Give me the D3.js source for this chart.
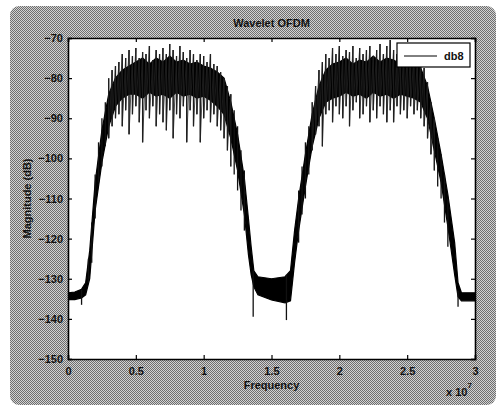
<!DOCTYPE html>
<html><head><meta charset="utf-8">
<script src="https://cdn.jsdelivr.net/npm/d3@7"></script>
<style>html,body{margin:0;padding:0;background:#fff;}svg{display:block;}text{font-family:"Liberation Sans",Arial,sans-serif;fill:#111;}</style>
</head><body>
<script>
// ---------- data (frequency in units of 10^7 Hz, magnitude in dB) ----------
const title = "Wavelet OFDM";
const xLabel = "Frequency";
const yLabel = "Magnitude (dB)";
const seriesName = "db8";
const xTicks = [0, 0.5, 1, 1.5, 2, 2.5, 3];
const yTicks = [-70, -80, -90, -100, -110, -120, -130, -140, -150];

// dense body of the spectrum (envelope of the black band)
const bodyF  = [0, 0.05, 0.10, 0.13, 0.16, 0.20, 0.25, 0.30, 0.35, 0.40, 0.45, 0.50, 0.55, 0.60, 0.65, 0.70, 0.75, 0.80, 0.85, 0.90, 0.95, 1.00, 1.05, 1.10, 1.15, 1.20, 1.25, 1.30, 1.33, 1.35, 1.37, 1.40, 1.50, 1.60, 1.64, 1.67, 1.70, 1.75, 1.80, 1.85, 1.90, 1.95, 2.00, 2.05, 2.10, 2.15, 2.20, 2.25, 2.30, 2.35, 2.40, 2.45, 2.50, 2.55, 2.60, 2.65, 2.70, 2.75, 2.80, 2.85, 2.875, 2.90, 2.95, 3.00];
const bodyHi = [-133.5, -133.3, -132.6, -131, -123, -106, -93, -84, -80, -78, -77, -76, -75, -76.5, -75, -76, -74.5, -76, -75.5, -76.5, -76, -77, -77.5, -78.5, -80, -86, -94, -105, -115, -122, -128, -129.5, -130, -129.5, -128, -118, -110, -99, -89, -82, -78, -76.5, -76, -75, -76.5, -75.5, -76, -74.5, -76, -75, -75.5, -76.5, -76, -77, -77.5, -82, -90, -99, -109, -121, -131, -133.5, -133.5, -133.5];
const bodyLo = [-135.2, -135.2, -134.8, -134, -130, -113, -101, -92, -87, -85, -84, -84, -85, -83.5, -84.5, -84, -85, -83.5, -84.5, -84, -85, -84.5, -85.5, -87, -89, -95, -103, -114, -124, -129, -132, -134, -135.3, -136, -135.5, -126, -118, -107, -97, -90, -86, -85, -84.5, -83.5, -84.5, -84, -85, -83.5, -84.5, -84, -85, -84, -84.5, -85, -86, -90, -98, -106, -117, -129, -134.5, -135.5, -135.5, -135.5];

// spikes of the noisy spectrum: frequency, peak and trough
const spikeF = [0.100, 0.150, 0.175, 0.200, 0.225, 0.250, 0.275,
  0.300, 0.325, 0.350, 0.375, 0.400, 0.425, 0.450, 0.475, 0.500, 0.525, 0.550, 0.575, 0.600, 0.625, 0.650, 0.675, 0.700, 0.725, 0.750, 0.775, 0.800, 0.825, 0.850, 0.875, 0.900, 0.925, 0.950, 0.975, 1.000, 1.025, 1.050, 1.075, 1.100, 1.125, 1.150, 1.175, 1.200, 1.225, 1.250, 1.275, 1.300, 1.365,
  1.610, 1.700, 1.725, 1.750, 1.775,
  1.800, 1.825, 1.850, 1.875, 1.900, 1.925, 1.950, 1.975, 2.000, 2.025, 2.050, 2.075, 2.100, 2.125, 2.150, 2.175, 2.200, 2.225, 2.250, 2.275, 2.300, 2.325, 2.350, 2.375, 2.400, 2.425, 2.450, 2.475, 2.500, 2.525, 2.550, 2.575, 2.600, 2.625, 2.650, 2.675, 2.700, 2.725, 2.750, 2.775, 2.800, 2.875];
const spikeHi = [-132.8, -125, -116, -104, -96, -90, -86,
  -80, -78, -77, -76, -74, -75, -73, -74.5, -72.5, -75, -73.5, -74, -72, -75.5, -73, -74, -72.5, -74, -71.5, -73, -74.5, -72, -73.5, -75, -73, -74, -75.5, -74, -74.5, -76, -74, -76.5, -77, -78.5, -80, -82, -84, -88, -92, -98, -103, -128,
  -129, -108, -102, -96, -92,
  -86, -82, -78, -76, -74, -75, -72.5, -74, -72, -74.5, -73, -73.5, -72, -75, -72.5, -74, -73, -72, -74.5, -73, -71.5, -74, -72, -70.5, -73, -74, -72.5, -74, -75, -73.5, -74.5, -76, -76, -77.5, -81, -86, -90, -95, -99, -104, -110, -133];
const spikeLo = [-136.5, -131, -126, -115, -106, -102, -97,
  -95, -92, -90, -89, -92, -88, -94, -89, -87, -91, -96, -88, -90, -87, -92, -89, -91, -93, -88, -95, -89, -90, -87, -96, -88, -92, -89, -96, -90, -88, -91, -89, -92, -93, -95, -98, -102, -104, -108, -113, -118, -139.5,
  -140.3, -121, -114, -110, -104,
  -98, -94, -92, -97, -89, -88, -91, -87, -89, -90, -87, -92, -88, -86, -90, -89, -87, -91, -88, -90, -87, -89, -91, -88, -91, -87, -89, -88, -90, -87, -89, -88, -90, -92, -95, -99, -103, -107, -110, -116, -122, -137];

// ---------- drawing ----------
const W = 502, H = 408;
const margin = {left: 68, top: 38, right: 27, bottom: 49};
const x = d3.scaleLinear().domain([0, 3]).range([margin.left, W - margin.right]);
const y = d3.scaleLinear().domain([-150, -70]).range([H - margin.bottom, margin.top]);

const svg = d3.select("body").append("svg").attr("width", W).attr("height", H);
const defs = svg.append("defs");
const pat = defs.append("pattern").attr("id", "dither").attr("width", 2).attr("height", 2).attr("patternUnits", "userSpaceOnUse");
pat.append("rect").attr("width", 2).attr("height", 2).attr("fill", "#d2d2d2");
pat.append("rect").attr("width", 1).attr("height", 1).attr("fill", "#6e6e6e");
pat.append("rect").attr("x", 1).attr("y", 1).attr("width", 1).attr("height", 1).attr("fill", "#6e6e6e");
defs.append("clipPath").attr("id", "plotclip").append("rect")
  .attr("x", x(0)).attr("y", y(-70)).attr("width", x(3) - x(0)).attr("height", y(-150) - y(-70));

// figure background
svg.append("rect").attr("x", 10).attr("y", 6).attr("width", 486).attr("height", 399).attr("rx", 9)
  .attr("fill", "url(#dither)");
// plot area
svg.append("rect").attr("x", x(0)).attr("y", y(-70)).attr("width", x(3) - x(0)).attr("height", y(-150) - y(-70))
  .attr("fill", "#fff");

const g = svg.append("g").attr("clip-path", "url(#plotclip)");
const body = bodyF.map((f, i) => ({f, hi: bodyHi[i], lo: bodyLo[i]}));
g.append("path").datum(body)
  .attr("d", d3.area().x(d => x(d.f)).y0(d => y(d.lo)).y1(d => y(d.hi)))
  .attr("fill", "#000").attr("stroke", "#000").attr("stroke-width", 1.2);

const spikes = spikeF.map((f, i) => ({f, hi: spikeHi[i], lo: spikeLo[i]}));
g.selectAll("line.spike").data(spikes).join("line").attr("class", "spike")
  .attr("x1", d => x(d.f)).attr("x2", d => x(d.f))
  .attr("y1", d => y(d.hi)).attr("y2", d => y(d.lo))
  .attr("stroke", "#111").attr("stroke-width", 1.3);
// zigzag through the spikes of each hump for the dense noisy texture
const humps = [[0.3, 1.2], [1.8, 2.7]];
humps.forEach(([a, b]) => {
  const zz = [];
  spikes.filter(d => d.f >= a && d.f <= b).forEach(d => { zz.push([d.f, d.hi]); zz.push([d.f, d.lo]); });
  g.append("path").datum(zz)
    .attr("d", d3.line().x(d => x(d[0])).y(d => y(d[1])))
    .attr("fill", "none").attr("stroke", "#222").attr("stroke-width", 0.8);
});

// axes (MATLAB style box with inward ticks)
const axB = svg.append("g").attr("transform", `translate(0,${y(-150)})`)
  .call(d3.axisBottom(x).tickValues(xTicks).tickSize(-4).tickPadding(8).tickFormat(d3.format("~g")));
const axT = svg.append("g").attr("transform", `translate(0,${y(-70)})`)
  .call(d3.axisTop(x).tickValues(xTicks).tickSize(-4).tickFormat(""));
const axL = svg.append("g").attr("transform", `translate(${x(0)},0)`)
  .call(d3.axisLeft(y).tickValues(yTicks).tickSize(-4).tickPadding(5).tickFormat(d3.format("d")));
const axR = svg.append("g").attr("transform", `translate(${x(3)},0)`)
  .call(d3.axisRight(y).tickValues(yTicks).tickSize(-4).tickFormat(""));
[axB, axT, axL, axR].forEach(a => {
  a.select(".domain").attr("stroke", "#000").attr("stroke-width", 1.6);
  a.selectAll(".tick line").attr("stroke", "#000").attr("stroke-width", 1.2);
  a.selectAll("text").style("font-family", "'Liberation Sans', Arial, sans-serif")
    .style("font-size", "11px").style("font-weight", "bold").attr("fill", "#111");
});

// legend
const lg = svg.append("g");
lg.append("rect").attr("x", 397).attr("y", 43).attr("width", 73).attr("height", 24)
  .attr("fill", "#fff").attr("stroke", "#000").attr("stroke-width", 1.2);
lg.append("line").attr("x1", 404).attr("x2", 437).attr("y1", 56).attr("y2", 56)
  .attr("stroke", "#000").attr("stroke-width", 1);
lg.append("text").attr("x", 444).attr("y", 60).text(seriesName)
  .style("font-size", "11px").style("font-weight", "bold");

// titles
svg.append("text").attr("x", (x(0) + x(3)) / 2).attr("y", 27).attr("text-anchor", "middle")
  .style("font-size", "11px").style("font-weight", "bold").text(title);
svg.append("text").attr("x", (x(0) + x(3)) / 2).attr("y", 389).attr("text-anchor", "middle")
  .style("font-size", "11px").style("font-weight", "bold").text(xLabel);
svg.append("text").attr("transform", `translate(31,${(y(-70) + y(-150)) / 2}) rotate(-90)`)
  .attr("text-anchor", "middle").style("font-size", "11px").style("font-weight", "bold").text(yLabel);
const ex = svg.append("text").attr("x", 446).attr("y", 396).style("font-size", "11px").style("font-weight", "bold");
ex.append("tspan").text("x 10");
ex.append("tspan").attr("dy", -8).style("font-size", "8px").text("7");
</script>
</body></html>
